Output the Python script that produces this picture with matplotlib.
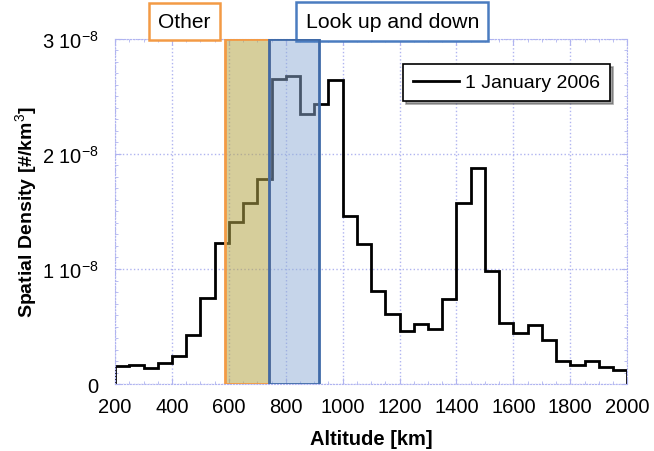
import matplotlib.pyplot as plt
import numpy as np
from matplotlib.patches import Rectangle
from matplotlib.ticker import MultipleLocator

plt.rcParams['font.family'] = ['Liberation Sans', 'DejaVu Sans']
plt.rcParams['mathtext.fontset'] = 'custom'
plt.rcParams['mathtext.rm'] = 'Liberation Sans'

# 50 km altitude bins, density in units of 1e-8 per km^3
edges = np.arange(200, 2001, 50)
density = [0.16, 0.17, 0.14, 0.185, 0.24, 0.43, 0.75, 1.23, 1.41, 1.57,
           1.78, 2.65, 2.68, 2.35, 2.43, 2.64, 1.46, 1.22, 0.81, 0.61,
           0.46, 0.52, 0.48, 0.74, 1.57, 1.88, 0.98, 0.53, 0.44, 0.51,
           0.385, 0.20, 0.168, 0.20, 0.145, 0.12]
density = np.array(density) * 1e-8

# shaded altitude bands
other_band = (585, 740)
lookud_band = (740, 915)

xticks = [200, 400, 600, 800, 1000, 1200, 1400, 1600, 1800, 2000]
yticks = [0, 1e-8, 2e-8, 3e-8]
ylabels = ['0', r'1 10$^{-8}$', r'2 10$^{-8}$', r'3 10$^{-8}$']

fig = plt.figure(figsize=(6.54, 4.52), dpi=100)
ax = fig.add_axes([0.176, 0.148, 0.783, 0.764])

ax.stairs(density, edges, color='black', lw=2, label='1 January 2006', zorder=2)

ax.add_patch(Rectangle((other_band[0], 0), other_band[1] - other_band[0], 3e-8,
                       facecolor='#b5a64a', alpha=0.55, edgecolor='none', zorder=3))
ax.add_patch(Rectangle((other_band[0], 0), other_band[1] - other_band[0], 3e-8,
                       facecolor='none', edgecolor='#f39a45', lw=2, zorder=4))
ax.add_patch(Rectangle((lookud_band[0], 0), lookud_band[1] - lookud_band[0], 3e-8,
                       facecolor='#8fadd6', alpha=0.5, edgecolor='none', zorder=3))
ax.add_patch(Rectangle((lookud_band[0], 0), lookud_band[1] - lookud_band[0], 3e-8,
                       facecolor='none', edgecolor='#3f6aa8', lw=2, zorder=4))

ax.text(443, 1.05, 'Other', transform=ax.get_xaxis_transform(), ha='center', va='center',
        fontsize=15, clip_on=False,
        bbox=dict(boxstyle='square,pad=0.45', facecolor='white', edgecolor='#f39a45', lw=1.8))
ax.text(1174, 1.05, 'Look up and down', transform=ax.get_xaxis_transform(), ha='center',
        va='center', fontsize=15.3, clip_on=False,
        bbox=dict(boxstyle='square,pad=0.45', facecolor='white', edgecolor='#4a7cc0', lw=1.8))

ax.set_xlim(200, 2000)
ax.set_ylim(0, 3e-8)
ax.set_xticks(xticks)
ax.set_yticks(yticks)
ax.set_yticklabels(ylabels)
ax.xaxis.set_minor_locator(MultipleLocator(50))
ax.yaxis.set_minor_locator(MultipleLocator(0.1e-8))
ax.tick_params(which='both', direction='in', color='#b0b4f0', top=True, right=True,
               labelsize=14.5)
ax.tick_params(axis='x', which='major', pad=9)
ax.tick_params(axis='y', which='major', pad=12)
ax.tick_params(which='major', length=4)
ax.tick_params(which='minor', length=2.5)
ax.grid(True, linestyle=':', color='#b0b4f0', lw=1)
for sp in ax.spines.values():
    sp.set_color('#b0b4f0')
    sp.set_linestyle(':')

ax.set_xlabel('Altitude [km]', fontsize=14.5, fontweight='bold', labelpad=10)
ax.set_ylabel('Spatial Density [#/km$^3$]', fontsize=14, fontweight='bold', labelpad=1)

leg = ax.legend(loc='upper right', bbox_to_anchor=(0.985, 0.955), fontsize=14,
                fancybox=False, shadow=True, framealpha=1, edgecolor='black',
                handlelength=2.4, handletextpad=0.3, borderpad=0.5)
leg.get_frame().set_linewidth(1.2)

fig.savefig('out.png', dpi=100)
